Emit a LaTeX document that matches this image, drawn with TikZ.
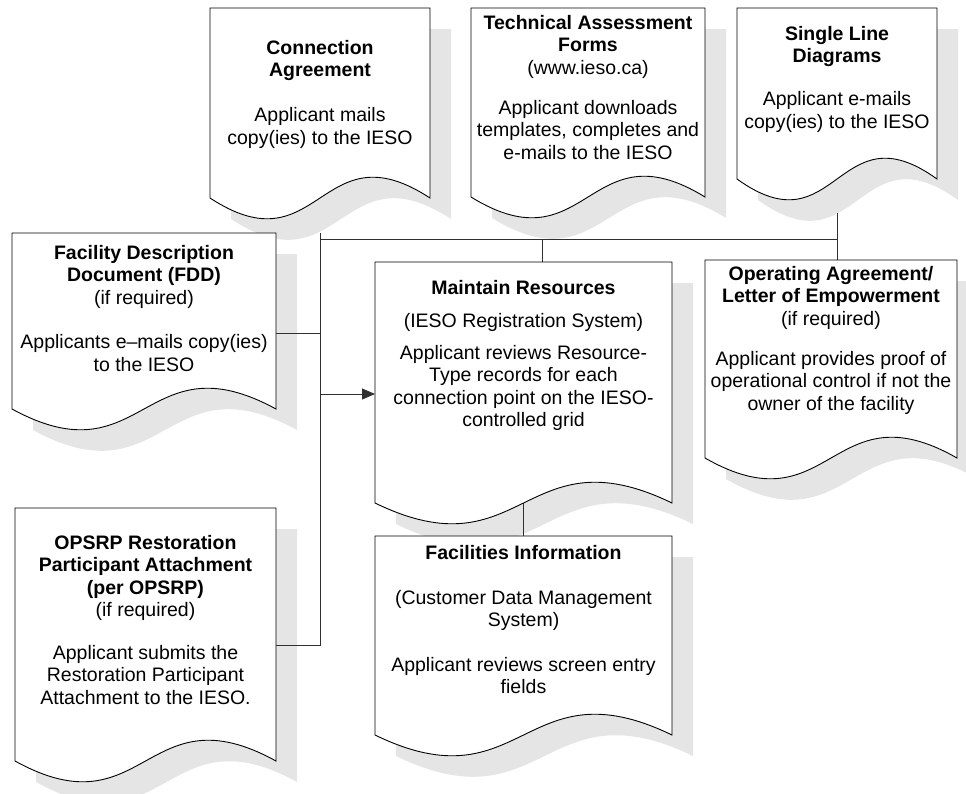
\documentclass[tikz,border=0pt]{standalone}
\usepackage{fontspec}
\setmainfont{Liberation Sans}
\usetikzlibrary{calc,arrows.meta}
\definecolor{shade}{gray}{0.9}
\definecolor{connc}{HTML}{303030}
\tikzset{
  docnode/.style={rectangle, draw=none, inner sep=0pt, outer sep=0pt},
  txt/.style={align=center, inner sep=0pt, anchor=north, font=\fontsize{19.5}{22.5}\selectfont},
  conn/.style={draw=connc, line width=1pt},
  frame/.style={draw=black, line width=0.9pt, fill=white, line join=miter},
  shadowfill/.style={fill=shade}
}
\newcommand\docshadow[1]{\fill[shadowfill] ($(#1.north west)+(21,21)$) -- ($(#1.north east)+(21,21)$) -- ($(#1.south east)+(21,21)$) .. controls ($(#1.south)+(21,-51)$) and ($(#1.south)+(21,93)$) .. ($(#1.south west)+(21,21)$) -- cycle;}
\newcommand\docframe[1]{\draw[frame] (#1.north west) -- (#1.north east) -- (#1.south east) .. controls ($(#1.south)+(0,-72)$) and ($(#1.south)+(0,72)$) .. (#1.south west) -- cycle;}
\begin{document}
\begin{tikzpicture}[x=1pt,y=-1pt]
\useasboundingbox (0,0) rectangle (966,793);
% shape nodes
\node[docnode, minimum width=220pt, minimum height=190pt] (ca) at (320,103) {};
\node[docnode, minimum width=234pt, minimum height=189pt] (taf) at (588,102.5) {};
\node[docnode, minimum width=200pt, minimum height=171pt] (sld) at (837,93.5) {};
\node[docnode, minimum width=264pt, minimum height=176pt] (fdd) at (144,321) {};
\node[docnode, minimum width=297pt, minimum height=241pt] (mr) at (523.5,382.5) {};
\node[docnode, minimum width=252pt, minimum height=198pt] (oa) at (831,359) {};
\node[docnode, minimum width=261pt, minimum height=253pt] (opsrp) at (145.5,634.5) {};
\node[docnode, minimum width=297pt, minimum height=199pt] (fi) at (523.5,635.5) {};
% shadows
\docshadow{ca}\docshadow{taf}\docshadow{sld}\docshadow{fdd}
\docshadow{mr}\docshadow{oa}\docshadow{opsrp}\docshadow{fi}
% connectors
\coordinate (bl) at (320,233);
\coordinate (bw) at (320,239);
\coordinate (be) at (837,239);
\coordinate (tj) at (542,239);
\coordinate (sj) at (837,213);
\coordinate (fj) at (320,333);
\coordinate (oj) at (320,645);
\coordinate (aj) at (320,394);
\draw[conn] (bl) -- (oj) -- (oj -| opsrp.east);
\draw[conn] (bw) -- (be);
\draw[conn] (sj) -- (sj |- oa.north);
\draw[conn] (tj) -- (tj |- mr.north);
\draw[conn] (fdd.east |- fj) -- (fj);
\draw[conn, -{Triangle[length=13pt,width=11pt]}] (aj) -- (aj -| mr.west);
\draw[conn] (mr.south) -- (fi.north);
% frames
\docframe{ca}\docframe{taf}\docframe{sld}\docframe{fdd}
\docframe{mr}\docframe{oa}\docframe{opsrp}\docframe{fi}
% texts
\node[txt] (ca-t) at (320,40) {\bfseries Connection\\\bfseries Agreement\\[22.5pt]Applicant mails\\copy(ies) to the IESO};
\node[txt] (taf-t) at (588,15) {\bfseries Technical Assessment\\\bfseries Forms\\(www.ieso.ca)\\[17.5pt]Applicant downloads\\templates, completes and\\e-mails to the IESO};
\node[txt] (sld-t) at (837,26) {\bfseries Single Line\\\bfseries Diagrams\\[20.5pt]Applicant e-mails\\copy(ies) to the IESO};
\node[txt] (fdd-t) at (144,245) {\bfseries Facility Description\\\bfseries Document (FDD)\\(if required)\\[22pt]Applicants e–mails copy(ies)\\to the IESO};
\node[txt] (mr-t) at (523.5,280) {\bfseries Maintain Resources\\[10.5pt](IESO Registration System)\\[9.5pt]Applicant reviews Resource-\\Type records for each\\connection point on the IESO-\\controlled grid};
\node[txt] (oa-t) at (831,266) {\bfseries Operating Agreement/\\\bfseries Letter of Empowerment\\(if required)\\[17.5pt]Applicant provides proof of\\operational control if not the\\owner of the facility};
\node[txt] (opsrp-t) at (145.5,535) {\bfseries OPSRP Restoration\\\bfseries Participant Attachment\\\bfseries (per OPSRP)\\(if required)\\[20pt]Applicant submits the\\Restoration Participant\\Attachment to the IESO.};
\node[txt] (fi-t) at (523.5,545) {\bfseries Facilities Information\\[22.5pt](Customer Data Management\\System)\\[22pt]Applicant reviews screen entry\\fields};
\end{tikzpicture}
\end{document}
